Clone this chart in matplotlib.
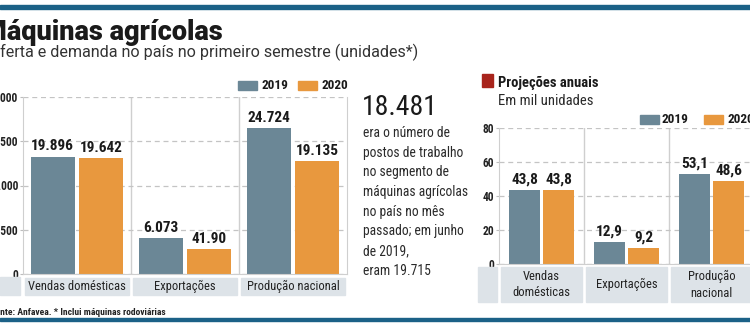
import matplotlib.pyplot as plt
from matplotlib.patches import Rectangle
from matplotlib.ticker import FuncFormatter

# data
categories = ['Vendas domésticas', 'Exportações', 'Produção nacional']
sem_2019 = [19896, 6073, 24724]
sem_2020 = [19642, 4190, 19135]
sem_labels_2019 = ['19.896', '6.073', '24.724']
sem_labels_2020 = ['19.642', '41.90', '19.135']

proj_categories = ['Vendas\ndomésticas', 'Exportações', 'Produção\nnacional']
proj_2019 = [43.8, 12.9, 53.1]
proj_2020 = [43.8, 9.2, 48.6]

info_number = '18.481'
info_lines = ['era o número de', 'postos de trabalho', 'no segmento de',
              'máquinas agrícolas', 'no país no mês', 'passado; em junho',
              'de 2019,', 'eram 19.715']

C19 = '#6b8796'
C20 = '#e8983e'
BLUE = '#1b6187'
BAND = '#dde3e8'
GRID = '#c4c4c4'
COND = ['Roboto Condensed', 'DejaVu Sans']

W, H = 750, 331
fig = plt.figure(figsize=(7.5, 3.31), dpi=100)


def fx(x):
    return x / W


def fy(y):
    return 1 - y / H


def ftext(x, y, s, **kw):
    kw.setdefault('family', COND)
    kw.setdefault('fontstretch', 'condensed')
    fig.text(fx(x), fy(y), s, **kw)


def frect(x0, y0, x1, y1, color):
    fig.patches.append(Rectangle((fx(x0), fy(y1)), (x1 - x0) / W, (y1 - y0) / H,
                                 transform=fig.transFigure, color=color, zorder=0))


# top / bottom rules
frect(0, 5, W, 9, BLUE)
frect(0, 318, W, 321, BLUE)

ftext(-17, 40, 'Máquinas agrícolas', fontsize=19.5, fontweight='black',
      family=['Roboto', 'DejaVu Sans'], fontstretch='normal', color='#1a1a1a',
      va='baseline')
ftext(-11, 57, 'Oferta e demanda no país no primeiro semestre (unidades*)',
      fontsize=11.6, family=['Roboto', 'DejaVu Sans'], fontstretch='normal',
      color='#333333', va='baseline')
ftext(-9, 315, 'Fonte: Anfavea. * Inclui máquinas rodoviárias', fontsize=6.8,
      fontweight='bold', color='#222222', va='baseline')


def bar_panel(rect, cats, v19, v20, ylim, ticks, fmt, lab19, lab20, bw, off,
              band, cat_fs, val_fs):
    ax = fig.add_axes(rect)
    x = range(len(cats))
    b1 = ax.bar([i - off for i in x], v19, bw, color=C19, zorder=2)
    b2 = ax.bar([i + off for i in x], v20, bw, color=C20, zorder=2)
    for bars, labs in ((b1, lab19), (b2, lab20)):
        for b, t in zip(bars, labs):
            ax.annotate(t, (b.get_x() + b.get_width() / 2, b.get_height()),
                        xytext=(0, 2.5), textcoords='offset points', ha='center',
                        va='bottom', fontsize=val_fs, fontweight='bold',
                        family=COND, fontstretch='condensed', color='#1a1a1a')
    ax.set_xlim(-0.5, len(cats) - 0.5)
    ax.set_ylim(*ylim)
    ax.set_yticks(ticks)
    ax.yaxis.set_major_formatter(FuncFormatter(fmt))
    ax.set_xticks([])
    ax.tick_params(axis='y', length=2.5, width=0.8, color='#bdbdbd', pad=1,
                   labelsize=8.3)
    for lab in ax.get_yticklabels():
        lab.set_fontweight('bold')
        lab.set_family(COND)
        lab.set_fontstretch('condensed')
        lab.set_color('#222222')
    ax.grid(axis='y', linestyle=(0, (4, 3)), color=GRID, linewidth=0.9, zorder=0)
    ax.spines['top'].set_visible(False)
    for s in ('left', 'right', 'bottom'):
        ax.spines[s].set_color('#cfcfcf')
    for i in range(1, len(cats)):
        ax.axvline(i - 0.5, color='#cfcfcf', linewidth=1, zorder=1)
    # category band
    for i, c in enumerate(cats):
        ax.add_patch(Rectangle((i - 0.48, -band[0]), 0.96, band[1],
                               transform=ax.get_xaxis_transform(), color=BAND,
                               clip_on=False, zorder=0))
        ax.text(i, -band[0] + band[1] / 2, c, transform=ax.get_xaxis_transform(),
                ha='center', va='center', fontsize=cat_fs, family=COND,
                fontstretch='condensed', color='#222222', linespacing=1.35)
    return ax


bar_panel([fx(23), fy(274), (347 - 23) / W, (274 - 97) / H], categories,
          sem_2019, sem_2020, (0, 30000), [0, 7500, 15000, 22500, 30000],
          lambda v, p: '0' if v == 0 else f'{int(v):,}'.replace(',', '.'),
          sem_labels_2019, sem_labels_2020, 0.41, 0.225, (0.12, 0.10),
          9, 11)
frect(0, 277, 20, 295, BAND)

bar_panel([fx(499), fy(264), (754 - 499) / W, (264 - 128) / H],
          proj_categories, proj_2019, proj_2020, (0, 80), [0, 20, 40, 60, 80],
          lambda v, p: f'{int(v)}', [f'{v:.1f}'.replace('.', ',') for v in proj_2019],
          [f'{v:.1f}'.replace('.', ',') for v in proj_2020],
          0.355, 0.2, (0.28, 0.255), 9, 11)
frect(478, 267, 497, 302, BAND)

# legends
for (x0, x1, tx, y0, y1, lab, col) in [(238, 257, 262, 81, 90, '2019', C19),
                                       (298, 317, 321, 81, 90, '2020', C20),
                                       (640, 659, 662, 115, 124, '2019', C19),
                                       (704, 723, 727, 115, 124, '2020', C20)]:
    frect(x0, y0, x1, y1, col)
    ftext(tx, (y0 + y1) / 2, lab, fontsize=9.5, fontweight='bold', va='center',
          color='#1a1a1a')

# middle info text
ftext(362, 115, info_number, fontsize=20, color='#1a1a1a', va='baseline')
for i, line in enumerate(info_lines):
    ftext(363, 137 + i * 19.7, line, fontsize=9.8, color='#2a2a2a',
          va='baseline')

# right title
frect(482, 74, 493, 87, '#a8241c')
ftext(498, 87, 'Projeções anuais', fontsize=10.5, fontweight='bold',
      color='#1a1a1a', va='baseline')
ftext(498, 105, 'Em mil unidades', fontsize=10.5, color='#2a2a2a',
      va='baseline')

fig.savefig('out.png', dpi=100, facecolor='white')
